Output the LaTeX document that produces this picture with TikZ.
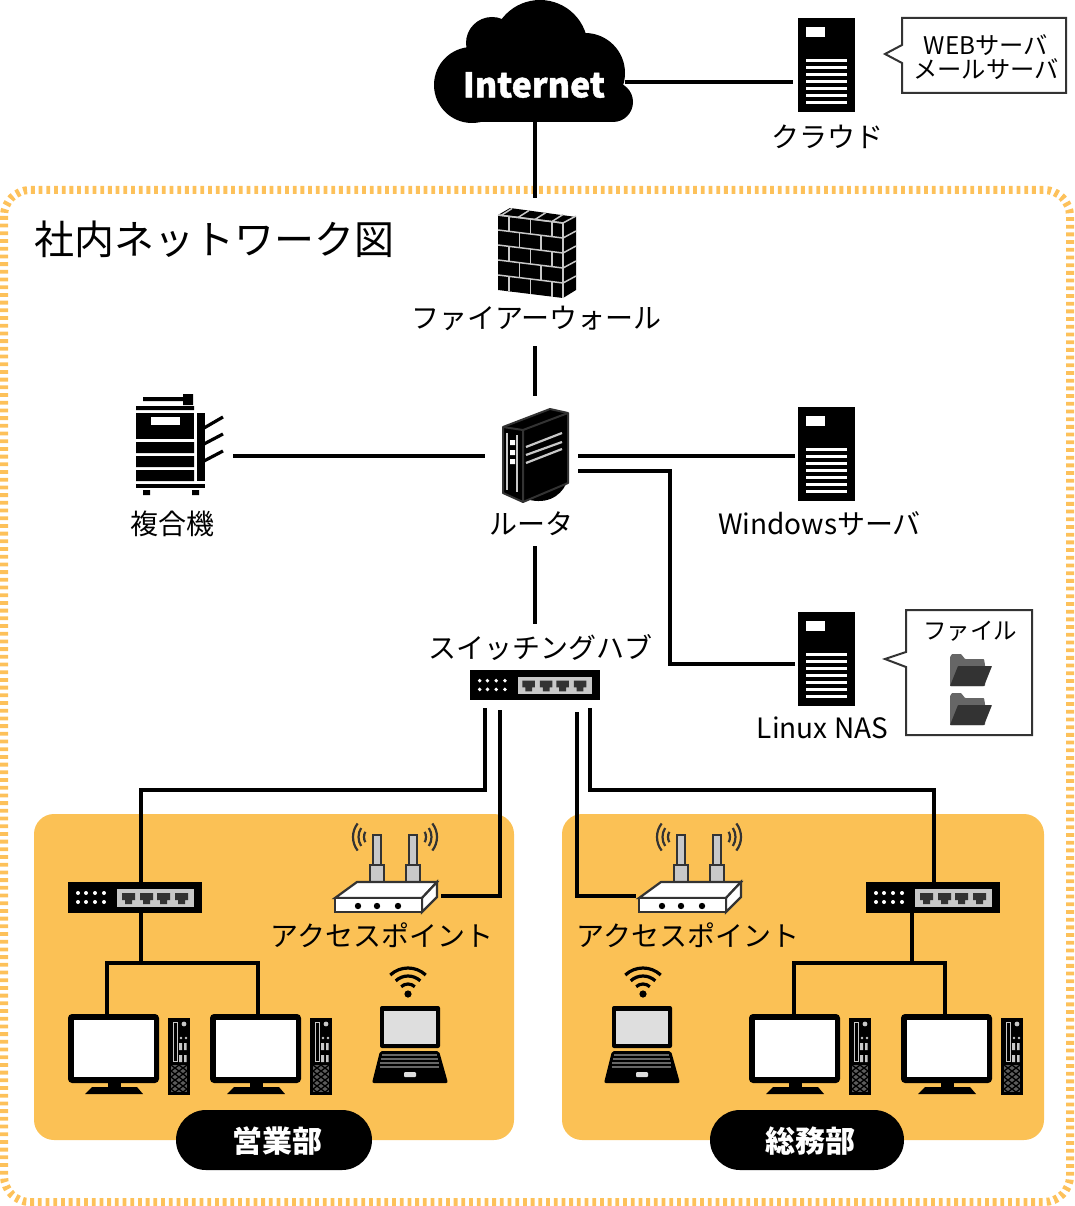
\documentclass[tikz,border=0pt]{standalone}
\usepackage{fontspec}
\setmainfont{Noto Sans CJK JP}
\definecolor{panelc}{HTML}{FBC155}
\definecolor{borderc}{HTML}{FDC15A}
\definecolor{darkc}{HTML}{333333}
\definecolor{lgray}{HTML}{C8C8C8}
\tikzset{
  x=1pt,y=-1pt,
  wire/.style={draw=black,line width=3.6pt,line cap=butt,line join=miter},
  lab/.style={inner sep=0pt,font=\fontsize{28}{30}\selectfont},
  pilltext/.style={inner sep=0pt,text=white,font=\fontsize{30}{32}\selectfont\bfseries},
  callout/.style={draw=darkc,line width=2pt,fill=white,line join=miter},
  srvicon/.pic={
    \fill[black] (0,0) rectangle (57,94);
    \fill[white] (8,9) rectangle (27,19);
    \foreach \k in {0,...,6} \fill[white] (8,41+7*\k) rectangle (49,43.6+7*\k);
  },
  hubicon/.pic={
    \fill[black] (0,0) rectangle (134,31);
    \foreach \dx in {10,18,27,36} \foreach \dy in {11,20} \fill[white] (\dx,\dy) circle (2);
    \fill[lgray] (49,7) rectangle (126,25);
    \foreach \dx in {54,72,89,107}
      \fill[darkc] (\dx,11)--(\dx+13,11)--(\dx+13,18)--(\dx+10,18)--(\dx+10,22)--(\dx+3,22)--(\dx+3,18)--(\dx,18)--cycle;
  },
  apicon/.pic={
    \begin{scope}[draw=darkc,line width=2.2pt,line join=miter]
      \foreach \ax in {38,74}{
        \filldraw[fill=lgray] (\ax,-47) rectangle (\ax+8,-2);
        \filldraw[fill=lgray] (\ax-3,-17) rectangle (\ax+11,0);
      }
      \filldraw[fill=white] (0,16)--(22,0)--(102,0)--(87,16)--cycle;
      \filldraw[fill=white] (102,0)--(102,15)--(87,30)--(87,16)--cycle;
      \filldraw[fill=white] (0,16) rectangle (87,30);
      \foreach \r/\a in {22/38,16.5/33,11/28}{
        \draw ([shift={(180+\a:\r)}]40,-45) arc[start angle=180+\a,end angle=180-\a,radius=\r];
        \draw ([shift={(-\a:\r)}]80,-45) arc[start angle=-\a,end angle=\a,radius=\r];
      }
    \end{scope}
    \foreach \dx in {23,42,63} \fill[black] (\dx,24) circle (3.2);
  },
  pcicon/.pic={
    \fill[black,rounded corners=4pt] (0,0) rectangle (91,69);
    \fill[white] (6,6) rectangle (86,63);
    \fill[black] (40,69) rectangle (53,74);
    \fill[black] (24,73)--(69,73)--(75,80)--(17,80)--cycle;
    \fill[black] (100,4) rectangle (122,81);
    \draw[lgray,line width=1pt] (105.5,8.5) rectangle (109,47);
    \fill[lgray] (116,10) circle (2.4);
    \fill[lgray] (113,24) circle (1.4) (118,24) circle (1.4);
    \fill[lgray] (111,29) rectangle (114,36) (116,29) rectangle (118.5,36);
    \fill[lgray] (111,41) rectangle (114,48) (116,41) rectangle (118.5,48);
    \begin{scope}
      \clip (103,51) rectangle (119,78);
      \fill[darkc!80!white] (103,51) rectangle (119,78);
      \foreach \k in {-5,...,8}{
        \draw[black,line width=1.3pt] (103,51+6*\k)--(119,51+6*\k+12);
        \draw[black,line width=1.3pt] (103,51+6*\k+12)--(119,51+6*\k);
      }
    \end{scope}
  },
  wifiicon/.pic={
    \fill[black] (0,0) circle (3.6);
    \foreach \r in {10,18,26}
      \draw[black,line width=3.2pt] ([shift={(-133:\r)}]0,0) arc[start angle=-133,end angle=-47,radius=\r];
  },
  laptopicon/.pic={
    \fill[black,rounded corners=2pt] (8,0) rectangle (68,42);
    \fill[white!87!black] (12,5) rectangle (64,38);
    \fill[black,rounded corners=2pt] (8,45)--(67,45)--(76,77)--(0,77)--cycle;
    \foreach \k/\dl in {0/0,1/-0.8,2/-1.6,3/-2.4}
      \draw[black!60!white,line width=2.2pt] (10+\dl,49+4.1*\k)--(65-\dl,49+4.1*\k);
    \fill[white!87!black,rounded corners=1pt] (32,66) rectangle (44,71);
  },
  foldericon/.pic={
    \fill[black!60!white,rounded corners=.6pt] (0,32)--(0,3)--(2,0)--(11,0)--(15,5)--(34,5)--(35,11)--(35,32)--cycle;
    \fill[darkc,rounded corners=.6pt] (8,12)--(42,12)--(34,32)--(0,32)--cycle;
  },
}
\begin{document}
\begin{tikzpicture}
\useasboundingbox (0,0) rectangle (1074,1206);
% outer boundary
\draw[borderc,line width=8pt,dash pattern=on 3.8pt off 3.9pt,rounded corners=26pt] (4,190) rectangle (1070,1202);
% department panels
\fill[panelc,rounded corners=20pt] (34,814) rectangle (514,1140);
\fill[panelc,rounded corners=20pt] (562,814) rectangle (1044,1140);

% connector end points
\coordinate (cloudS) at (535,122);
\coordinate (cloudE) at (625,82);
\coordinate (wsrvW) at (793,82);
\coordinate (fwN) at (535,198);
\coordinate (fwS) at (535,346);
\coordinate (rtN) at (535,396);
\coordinate (rtW) at (485,456);
\coordinate (mfpE) at (233,456);
\coordinate (rtE1) at (578,456);
\coordinate (winW) at (795,456);
\coordinate (rtE2) at (578,471);
\coordinate (nasBend1) at (670,471);
\coordinate (nasBend2) at (670,664);
\coordinate (nasW) at (795,664);
\coordinate (rtS) at (535,546);
\coordinate (swN) at (535,624);
\coordinate (swS1) at (485,708);
\coordinate (swS2) at (500,710);
\coordinate (swS3) at (577,712);
\coordinate (swS4) at (590,708);
\coordinate (bendL1) at (485,790);
\coordinate (bendL2) at (141,790);
\coordinate (bendR1) at (590,790);
\coordinate (bendR2) at (934,790);
\coordinate (hubLN) at (141,882);
\coordinate (hubRN) at (934,882);
\coordinate (apLE) at (441,896);
\coordinate (apRW) at (636,896);
\coordinate (hubLS) at (141,912);
\coordinate (hubRS) at (912,912);
\coordinate (jL) at (141,963);
\coordinate (jR) at (912,963);
\coordinate (pcL1) at (107,1014);
\coordinate (pcL2) at (258,1014);
\coordinate (pcR1) at (794,1014);
\coordinate (pcR2) at (945,1014);

% connectors
\draw[wire] (cloudS)--(fwN);
\draw[wire] (cloudE)--(wsrvW);
\draw[wire] (fwS)--(rtN);
\draw[wire] (mfpE)--(rtW);
\draw[wire] (rtE1)--(winW);
\draw[wire] (rtE2)--(nasBend1)--(nasBend2)--(nasW);
\draw[wire] (rtS)--(swN);
\draw[wire] (swS1)--(bendL1)--(bendL2)--(hubLN);
\draw[wire] (swS2)|-(apLE);
\draw[wire] (swS3)|-(apRW);
\draw[wire] (swS4)--(bendR1)--(bendR2)--(hubRN);
\draw[wire] (hubLS)--(jL);
\draw[wire] (hubRS)--(jR);
\draw[wire] (pcL1)|-(jL)-|(pcL2);
\draw[wire] (pcR1)|-(jR)-|(pcR2);

% cloud
\fill[black] (472,85) circle (38) (492,43) circle (26) (540,48) circle (48) (585,73) circle (40) (613,102) circle (20);
\fill[black] (472,90) rectangle (613,122);
\fill[black] (480,60) rectangle (590,100);
\node[inner sep=0pt,text=white,font=\fontsize{34}{36}\selectfont\bfseries\addfontfeature{FakeBold=1.2}] (inetlabel) at (534,85) {Internet};

% servers
\pic at (798,18) {srvicon};
\pic at (798,407) {srvicon};
\pic at (798,612) {srvicon};

% callouts
\draw[callout] (902,18)--(1066,18)--(1066,93)--(902,93)--(902,63)--(885,54)--(902,45)--cycle;
\node[inner sep=0pt,align=center,font=\fontsize{24.3}{24.5}\selectfont] (webmail) at (986,57) {WEBサーバ\\メールサーバ};
\draw[callout] (906,610)--(1032,610)--(1032,735)--(906,735)--(906,667)--(885,659)--(906,652)--cycle;
\node[inner sep=0pt,font=\fontsize{23.5}{26}\selectfont] (filelabel) at (970,631.5) {ファイル};
\pic at (950,654) {foldericon};
\pic at (950,693) {foldericon};

% firewall
\fill[black] (498,215)--(510,208)--(576,217)--(576,290)--(563,298)--(498,290)--cycle;
\begin{scope}[shift={(498,215)},x={(65pt,-8pt)},y={(0pt,-75pt)}]
  \foreach \v in {0,.2,.4,.6,.8} \draw[lgray,line width=1.5pt] (0,\v+.0)--(1,\v);
  \draw[lgray,line width=1.5pt] (0,0)--(1,0);
  \foreach \u in {.17,.5,.83} {
    \draw[lgray,line width=1.5pt] (\u,0)--(\u,.2);
    \draw[lgray,line width=1.5pt] (\u,.4)--(\u,.6);
    \draw[lgray,line width=1.5pt] (\u,.8)--(\u,1);
  }
  \foreach \u in {.33,.66} {
    \draw[lgray,line width=1.5pt] (\u,.2)--(\u,.4);
    \draw[lgray,line width=1.5pt] (\u,.6)--(\u,.8);
  }
\end{scope}
\foreach \k in {0,...,4}
  \draw[lgray,line width=1.5pt] (563,223+15*\k)--(576,216+15*\k);
\draw[lgray,line width=1.5pt] (563,223)--(563,298);
\foreach \k in {0,1,2,3}
  \draw[lgray,line width=1.5pt] (501+17*\k,215.5+2*\k)--(512+17*\k,208.5+2*\k);
\node[lab] (fwlabel) at (536.5,318.5) {ファイアーウォール};

% multifunction printer
\fill[black] (143,397) rectangle (183,401) (183,394) rectangle (193,405) (136,406) rectangle (194,410);
\fill[black] (136,413) rectangle (194,439);
\fill[white] (151,417) rectangle (180,425);
\fill[black] (136,442) rectangle (194,453) (136,456) rectangle (194,467) (136,470) rectangle (194,481);
\fill[black] (197,413) rectangle (205,481);
\fill[black] (136,484) rectangle (205,488);
\fill[black] (143,490) rectangle (150,495) (192,490) rectangle (199,495);
\draw[black,line width=3.2pt] (204,428)--(223,417);
\draw[black,line width=3.2pt] (204,444)--(223,434);
\draw[black,line width=3.2pt] (204,461)--(223,451);
\node[lab] (mfplabel) at (172.5,524) {複合機};

% router
\fill[black] (523,498) .. controls (545,506) and (560,497) .. (566,484)--cycle;
\filldraw[fill=black,draw=darkc,line width=2pt,line join=round] (503,427)--(550,409)--(568,413)--(568,483)--(523,502)--(503,493)--cycle;
\draw[darkc,line width=2pt] (503,427)--(523,430)--(568,413) (523,430)--(523,502);
\draw[lgray,line width=1.5pt] (507,433)--(507,490) (517,435)--(517,492);
\fill[white] (510,440) rectangle (515,445) (510,450) rectangle (515,455) (510,459) rectangle (515,464);
\draw[lgray,line width=2.2pt] (526,447)--(562,433) (526,455)--(562,442) (526,463)--(562,449);
\node[lab] (rtlabel) at (531,524) {ルータ};

% labels
\node[lab] (cloudsrvlabel) at (827,137) {クラウド};
\node[lab] (winlabel) at (819.5,524) {Windowsサーバ};
\node[lab] (naslabel) at (822.5,728) {Linux NAS};
\node[lab] (swlabel) at (540,648) {スイッチングハブ};
\node[inner sep=0pt,font=\fontsize{40}{44}\selectfont] (title) at (214,239) {社内ネットワーク図};

% hubs
\pic[scale=.97] at (470,670) {hubicon};
\pic at (68,882) {hubicon};
\pic at (866,882) {hubicon};

% access points
\pic at (335,882) {apicon};
\pic at (639,882) {apicon};
\node[lab] (apLlabel) at (382,935.5) {アクセスポイント};
\node[lab] (apRlabel) at (688,935.5) {アクセスポイント};

% PCs
\pic at (68,1014) {pcicon};
\pic at (210,1014) {pcicon};
\pic at (749,1014) {pcicon};
\pic at (901,1014) {pcicon};

% laptops
\pic at (408,994) {wifiicon};
\pic at (372,1006) {laptopicon};
\pic at (643,994) {wifiicon};
\pic at (604,1006) {laptopicon};

% department tags
\fill[black,rounded corners=30pt] (176,1110) rectangle (372,1170);
\node[pilltext] (sales) at (277,1141) {営業部};
\fill[black,rounded corners=30pt] (710,1110) rectangle (904,1170);
\node[pilltext] (admin) at (810,1141) {総務部};
\end{tikzpicture}
\end{document}
